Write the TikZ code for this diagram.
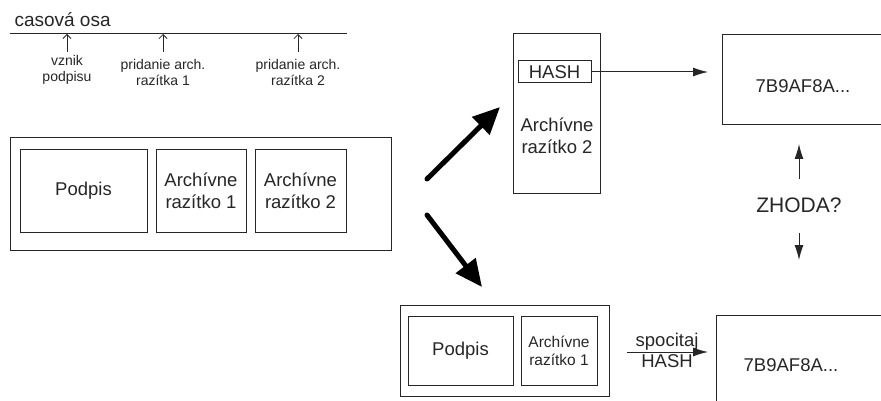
\documentclass[tikz,border=0pt]{standalone}
\usepackage{fontspec}
\setmainfont{Liberation Sans}
\usetikzlibrary{arrows.meta}

\begin{document}
\begin{tikzpicture}[x=1pt, y=-1pt, color=black!85, line width=1pt,
  font=\fontsize{18.5}{22}\selectfont,
  box/.style={rectangle, draw, inner sep=0pt, align=center},
  note/.style={font=\fontsize{14}{16}\selectfont, align=center, inner sep=0pt},
  tick/.style={-{Straight Barb[length=4pt,width=8pt]}, line width=0.8pt},
  thin/.style={-{Latex[length=15pt,width=9pt]}},
  bigarr/.style={line width=5pt, line cap=round, -{Triangle[length=27pt,width=24pt]}}]
\useasboundingbox (0,0) rectangle (881,401);
\clip (0,0) rectangle (881,401);

% time axis with the three events
\node[anchor=base west, inner sep=0pt, font=\fontsize{19}{22}\selectfont] (osa) at (14,27) {casová osa};
\coordinate (ax0) at (10,34);
\coordinate (ax1) at (347,34);
\draw (ax0) -- (ax1);
\foreach \px/\py/\txt [count=\i] in {67/55/{vznik\\podpisu}, 163/59/{pridanie arch.\\razítka 1}, 298/59/{pridanie arch.\\razítka 2}} {
  \node[note, anchor=north] (ev\i) at (\px,\py) {\txt};
  \pgfmathsetmacro{\gap}{\py-52}
  \draw[tick, shorten <=\gap pt] (ev\i.north) -- (ev\i.north |- ax0);
}

% signature with both timestamps
\node[box, minimum width=381, minimum height=112] (pkg) at (200.5,194) {};
\node[box, minimum width=127, minimum height=82] (sig) at (83.5,191) {Podpis};
\node[box, minimum width=90, minimum height=82] (ts1) at (201,191) {Archívne\\razítko 1};
\node[box, minimum width=91, minimum height=82] (ts2) at (300.5,191) {Archívne\\razítko 2};

% split into the two parts
\coordinate (up0) at (427,179);
\coordinate (up1) at (500,107);
\coordinate (dn0) at (427,215);
\coordinate (dn1) at (482,287);
\draw[bigarr, black] (up0) -- (up1);
\draw[bigarr, black] (dn0) -- (dn1);

% timestamp 2 holds the stored hash
\node[box, minimum width=87, minimum height=159] (arch2) at (556.5,113.5) {};
\node[box, minimum width=73, minimum height=22] (hash) at (554.5,72) {HASH};
\node[align=center, inner sep=0pt] (arch2txt) at (557,136) {Archívne\\razítko 2};

\node[box, minimum width=200, minimum height=90, anchor=north west] (val1) at (722,34) {};
\node[inner sep=0pt] (val1txt) at (803,86) {7B9AF8A...};
\draw[thin, shorten >=14pt] (hash.east) -- (hash.east -| val1.west);

% comparison
\node[inner sep=0pt, font=\fontsize{21}{25}\selectfont] (match) at (799,205) {ZHODA?};

% signature with timestamp 1 only
\node[box, minimum width=209, minimum height=91] (pkg2) at (504.5,350.5) {};
\node[box, minimum width=105, minimum height=69] (sig2) at (460.5,350.5) {Podpis};
\node[box, minimum width=76, minimum height=69, font=\fontsize{15.5}{18}\selectfont] (ts1b) at (559,350.5) {Archívne\\razítko 1};

\node[box, minimum width=200, minimum height=120, anchor=north west] (val2) at (716,315) {};
\node[inner sep=0pt] (val2txt) at (791,365) {7B9AF8A...};

\coordinate (calc0) at (627,352);
\draw[thin, shorten >=8pt] (calc0) -- (val2.west |- calc0)
  node[pos=0.45, above, inner sep=1pt] (calctop) {spocitaj}
  node[pos=0.45, below, inner sep=2pt] (calcbot) {HASH};

\draw[thin, shorten <=18pt, shorten >=19pt] (match.north) -- (match.north |- val1.south);
\draw[thin, shorten <=20pt, shorten >=55pt] (match.south) -- (match.south |- val2.north);
\end{tikzpicture}
\end{document}
